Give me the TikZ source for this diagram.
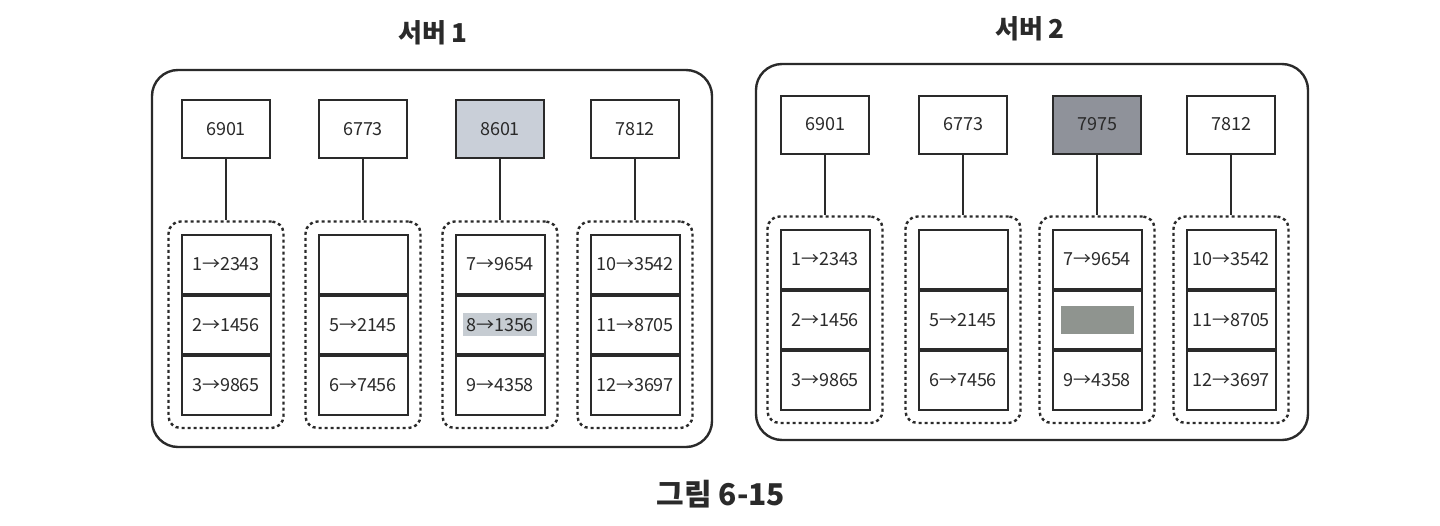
\documentclass[tikz,border=0pt]{standalone}
\usepackage{fontspec}
\setmainfont{Noto Sans CJK KR}
\usetikzlibrary{fit}
\definecolor{ink}{HTML}{2A2A2A}
\definecolor{hlA}{HTML}{C9CFD8}
\definecolor{hlB}{HTML}{8F929A}
\definecolor{cellA}{HTML}{C6CCD2}
\definecolor{cellB}{HTML}{8F948F}
\tikzset{
  srvbox/.style={draw=ink, line width=2.4pt, rounded corners=26pt, inner sep=0pt},
  keybox/.style={draw=ink, line width=2pt, minimum width=88pt, minimum height=58pt, inner sep=0pt, font=\fontsize{18}{21}\selectfont, text=ink},
  cellbox/.style={draw=ink, line width=2pt, minimum width=89pt, minimum height=58.5pt, inner sep=0pt},
  celltext/.style={font=\fontsize{18}{21}\selectfont, text=ink},
  dbox/.style={draw=ink, line width=2.4pt, dash pattern=on 3pt off 3pt, rounded corners=12pt, inner xsep=12pt, inner ysep=12.5pt},
  link/.style={draw=ink, line width=2pt},
  hlbox/.style={inner xsep=3pt, inner ysep=5pt, font=\fontsize{18}{21}\selectfont, text=ink},
  title/.style={font=\fontsize{26}{30}\selectfont\bfseries, text=ink}
}
\begin{document}
\begin{tikzpicture}[x=1pt,y=-1pt]
\useasboundingbox (0,0) rectangle (1440,525);
% titles
\node[title] (t1) at (433,33) {서버 1};
\node[title] (t2) at (1030,29) {서버 2};
\node[title, font=\fontsize{30}{34}\selectfont\bfseries] (cap) at (721,494) {그림 6-15};
% server frames
\node[srvbox, minimum width=560pt, minimum height=377pt] (srv1) at (432,258.5) {};
\node[srvbox, minimum width=552pt, minimum height=376pt] (srv2) at (1032,252) {};
% columns: server/col/x/keyY/cellTopY/key/keyfill
\foreach \s/\i/\x/\ky/\cy/\k/\kf in {
  1/1/226/129/234/6901/white,
  1/2/363/129/234/6773/white,
  1/3/500/129/234/8601/hlA,
  1/4/635/129/234/7812/white,
  2/1/825/124.5/229/6901/white,
  2/2/963/124.5/229/6773/white,
  2/3/1097/124.5/229/7975/hlB,
  2/4/1231/124.5/229/7812/white}{
  \node[keybox, fill=\kf] (k\s\i) at (\x,\ky) {\k};
  \node[cellbox, anchor=north] (c\s\i a) at (\x,\cy) {};
  \node[cellbox, anchor=north] (c\s\i b) at (c\s\i a.south) {};
  \node[cellbox, anchor=north] (c\s\i c) at (c\s\i b.south) {};
  \node[dbox, fit=(c\s\i a)(c\s\i c)] (d\s\i) {};
  \draw[link] (k\s\i) -- (d\s\i.north);
}
% cell texts
\foreach \s in {1,2}{
  \node[celltext] (x\s1a) at (c\s1a) {1→2343};
  \node[celltext] (x\s1b) at (c\s1b) {2→1456};
  \node[celltext] (x\s1c) at (c\s1c) {3→9865};
  \node[celltext] (x\s2b) at (c\s2b) {5→2145};
  \node[celltext] (x\s2c) at (c\s2c) {6→7456};
  \node[celltext] (x\s3a) at (c\s3a) {7→9654};
  \node[celltext] (x\s3c) at (c\s3c) {9→4358};
  \node[celltext] (x\s4a) at (c\s4a) {10→3542};
  \node[celltext] (x\s4b) at (c\s4b) {11→8705};
  \node[celltext] (x\s4c) at (c\s4c) {12→3697};
}
\node[hlbox, fill=cellA] (x13b) at (c13b) {8→1356};
\node[fill=cellB, minimum width=73pt, minimum height=28pt, inner sep=0pt] (x23b) at (c23b) {};
\end{tikzpicture}
\end{document}
